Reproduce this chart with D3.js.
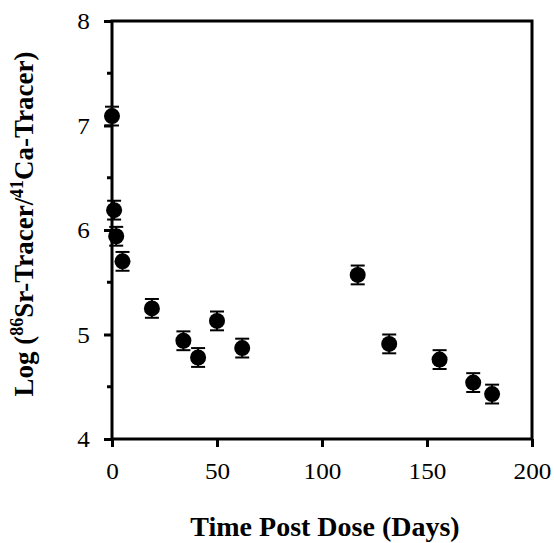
<!DOCTYPE html>
<html>
<head>
<meta charset="utf-8">
<script src="https://cdn.jsdelivr.net/npm/d3@7"></script>
<style>
  body { margin: 0; background: #fff; }
  svg text { font-family: "Liberation Serif", serif !important; }
</style>
</head>
<body>
<div class="wrapper"></div>
<script>
const WIDTH = 554
const HEIGHT = 543
const margin = {left: 112, right: 22, top: 21, bottom: 104}

// days post dose and log ratio
var days = [0, 1, 2, 5, 19, 34, 41, 50, 62, 117, 132, 156, 172, 181]
var logRatio = [7.09, 6.19, 5.94, 5.70, 5.25, 4.94, 4.78, 5.13, 4.87, 5.57, 4.91, 4.76, 4.54, 4.43]
var errors = [0.09, 0.09, 0.09, 0.09, 0.09, 0.09, 0.09, 0.09, 0.09, 0.09, 0.09, 0.09, 0.09, 0.09]
var xTicks = [0, 50, 100, 150, 200]
var yTicks = [4, 5, 6, 7, 8]
var yMinor = [4.5, 5.5, 6.5, 7.5]

var data = days.map((d, i) => ({day: d, val: logRatio[i], err: errors[i]}))

var svg = d3.select(".wrapper")
    .append("svg")
    .attr("width", WIDTH)
    .attr("height", HEIGHT)

var x = d3.scaleLinear().domain([0, 200]).range([margin.left, WIDTH - margin.right])
var y = d3.scaleLinear().domain([4, 8]).range([HEIGHT - margin.bottom, margin.top])

// frame
svg.append("rect")
    .attr("x", x(0))
    .attr("y", y(8))
    .attr("width", x(200) - x(0))
    .attr("height", y(4) - y(8))
    .attr("fill", "none")
    .attr("stroke", "black")
    .attr("stroke-width", 3)

var xAxis = svg.append("g")
    .attr("transform", `translate(0,${y(4)})`)
    .call(d3.axisBottom(x).tickValues(xTicks).tickFormat(d3.format("d")).tickSize(8).tickPadding(15))
xAxis.select(".domain").remove()
xAxis.selectAll("line").attr("stroke-width", 3)
xAxis.selectAll("text")
    .style("font-size", "24px")
    .style("transform", "scaleX(1.05)")
    .attr("fill", "black")

var yAxis = svg.append("g")
    .attr("transform", `translate(${x(0)},0)`)
    .call(d3.axisLeft(y).tickValues(yTicks).tickFormat(d3.format("d")).tickSize(8).tickPadding(13))
yAxis.select(".domain").remove()
yAxis.selectAll("line").attr("stroke-width", 3)
yAxis.selectAll("text")
    .style("font-size", "24px")
    .style("transform", "scaleX(1.05)")
    .attr("fill", "black")

svg.append("g")
    .selectAll("line")
    .data(yMinor)
    .join("line")
    .attr("x1", x(0) - 5)
    .attr("x2", x(0))
    .attr("y1", d => y(d))
    .attr("y2", d => y(d))
    .attr("stroke", "black")
    .attr("stroke-width", 3)

// error bars
var eb = svg.append("g")
eb.selectAll(".stem")
    .data(data)
    .join("line")
    .attr("class", "stem")
    .attr("x1", d => x(d.day))
    .attr("x2", d => x(d.day))
    .attr("y1", d => y(d.val + d.err))
    .attr("y2", d => y(d.val - d.err))
    .attr("stroke", "black")
    .attr("stroke-width", 2)
eb.selectAll(".capTop")
    .data(data)
    .join("line")
    .attr("class", "capTop")
    .attr("x1", d => x(d.day) - 7)
    .attr("x2", d => x(d.day) + 7)
    .attr("y1", d => y(d.val + d.err))
    .attr("y2", d => y(d.val + d.err))
    .attr("stroke", "black")
    .attr("stroke-width", 2)
eb.selectAll(".capBot")
    .data(data)
    .join("line")
    .attr("class", "capBot")
    .attr("x1", d => x(d.day) - 7)
    .attr("x2", d => x(d.day) + 7)
    .attr("y1", d => y(d.val - d.err))
    .attr("y2", d => y(d.val - d.err))
    .attr("stroke", "black")
    .attr("stroke-width", 2)

svg.append("g")
    .selectAll("circle")
    .data(data)
    .join("circle")
    .attr("cx", d => x(d.day))
    .attr("cy", d => y(d.val))
    .attr("r", 8)
    .attr("fill", "black")

// titles
svg.append("text")
    .attr("x", 325)
    .attr("y", 536)
    .attr("text-anchor", "middle")
    .style("font-size", "28px")
    .style("font-weight", "bold")
    .text("Time Post Dose (Days)")

var yt = svg.append("text")
    .attr("transform", `translate(33,224) rotate(-90)`)
    .attr("text-anchor", "middle")
    .style("font-size", "27px")
    .style("font-weight", "bold")
yt.append("tspan").text("Log (")
yt.append("tspan").attr("baseline-shift", "super").style("font-size", "18px").text("86")
yt.append("tspan").text("Sr-Tracer/")
yt.append("tspan").attr("baseline-shift", "super").style("font-size", "18px").text("41")
yt.append("tspan").text("Ca-Tracer)")
</script>
</body>
</html>
